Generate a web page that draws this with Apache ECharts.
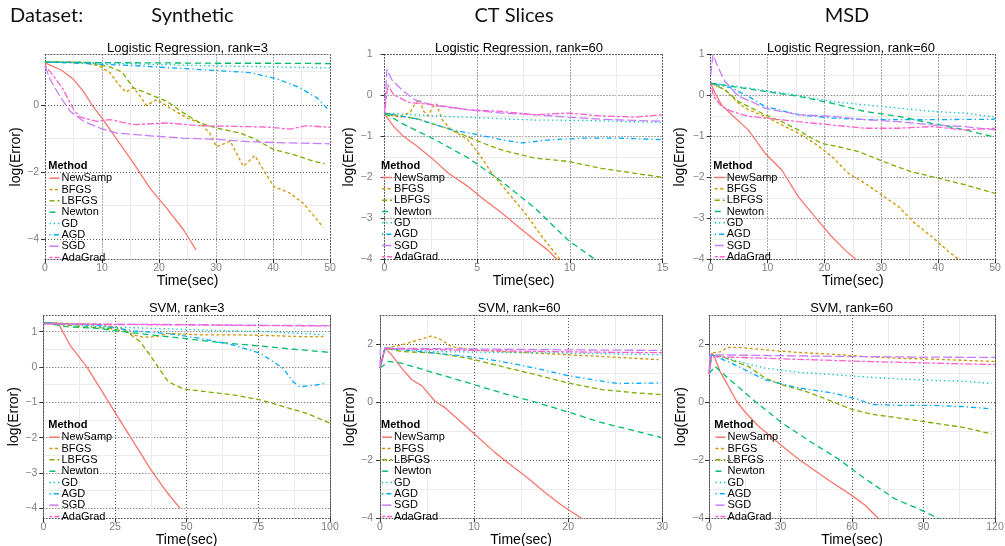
<!DOCTYPE html>
<html>
<head>
<meta charset="utf-8">
<script src="https://cdn.jsdelivr.net/npm/echarts@6/dist/echarts.min.js"></script>
<style>html,body{margin:0;padding:0;background:#fff}#c{width:1005px;height:546px}</style>
</head>
<body>
<div id="c"></div>
<script>
// ---------- data: [time(sec), log(Error)] ----------
const methods = ['NewSamp','BFGS','LBFGS','Newton','GD','AGD','SGD','AdaGrad'];

// Synthetic, Logistic Regression rank=3
const lr3_NewSamp = [[0,1.25],[2.9,1.03],[5,0.76],[6.7,0.41],[8.2,0.01],[10.2,-0.44],[12.6,-1.03],[15.5,-1.73],[18.4,-2.48],[21.3,-3.07],[24.3,-3.72],[26.5,-4.32]];
const lr3_BFGS = [[0,1.28],[6.7,1.27],[9.6,1.15],[11.4,0.96],[12.9,0.61],[14.2,0.38],[15.5,0.51],[16.7,0.26],[17.8,-0.02],[19.6,0.16],[21.9,-0.09],[24.9,-0.39],[27.2,-0.54],[28.9,-0.84],[30.1,-1.25],[32.5,-1.08],[34.8,-1.83],[36.8,-1.51],[40.1,-2.43],[43,-2.63],[45.3,-2.93],[48.8,-3.64]];
const lr3_LBFGS = [[0,1.28],[8,1.25],[11.4,1.13],[13.5,0.98],[15.5,0.51],[18.4,0.31],[21.3,0.11],[24.3,-0.24],[27.2,-0.54],[30.1,-0.69],[34.2,-0.84],[36.5,-0.99],[40.1,-1.33],[43.6,-1.48],[47.1,-1.68],[49.1,-1.75]];
const lr3_Newton = [[0,1.28],[10,1.26],[20,1.25],[30,1.24],[40,1.24],[50,1.23]];
const lr3_GD = [[0,1.28],[10,1.25],[20,1.2],[30,1.16],[40,1.13],[50,1.1]];
const lr3_AGD = [[0,1.28],[15.5,1.17],[27.2,1.05],[36,0.96],[40.6,0.78],[44.7,0.51],[47.7,0.21],[49.7,-0.14]];
const lr3_SGD = [[0,1.15],[0.9,0.76],[2.6,0.26],[4.4,-0.19],[6.7,-0.48],[9.6,-0.69],[12.6,-0.84],[18.4,-0.92],[24.3,-0.99],[30.1,-1.03],[36,-1.1],[41.8,-1.13],[50,-1.16]];
const lr3_AdaGrad = [[0,1.18],[1.5,0.86],[3.2,0.46],[5,-0.14],[6.1,-0.36],[9.1,-0.49],[11.4,-0.44],[15.5,-0.59],[21.3,-0.54],[27.2,-0.62],[33,-0.64],[38.9,-0.66],[43,-0.72],[45.9,-0.62],[50,-0.67]];

// CT Slices, Logistic Regression rank=60
const lrct_NewSamp = [[0,-0.45],[0.5,-0.76],[1.0,-0.99],[1.8,-1.25],[2.55,-1.53],[3.45,-1.9],[4.5,-2.22],[5.4,-2.55],[6.3,-2.86],[7.2,-3.2],[8.1,-3.53],[8.8,-3.77],[9.3,-4.0],[9.5,-4.1]];
const lrct_BFGS = [[0,-0.45],[0.9,-0.53],[1.4,-0.4],[1.65,-0.2],[1.9,-0.1],[2.1,-0.38],[2.35,-0.5],[2.6,-0.28],[2.8,-0.2],[3.1,-0.58],[3.6,-0.84],[4.5,-1.08],[5.07,-1.41],[5.8,-1.9],[6.7,-2.39],[7.6,-2.88],[8.5,-3.45],[9.47,-4.0],[9.6,-4.1]];
const lrct_LBFGS = [[0,-0.43],[1.83,-0.58],[3.63,-0.84],[5.07,-1.12],[6.3,-1.33],[8.1,-1.53],[9.9,-1.61],[11.7,-1.78],[13.5,-1.9],[15,-2.0]];
const lrct_Newton = [[0,-0.43],[0.93,-0.68],[2.73,-1.08],[4.53,-1.53],[6.32,-2.1],[8.12,-2.75],[9.9,-3.53],[11.35,-4.0],[11.5,-4.1]];
const lrct_GD = [[0,-0.43],[2.73,-0.5],[5.4,-0.55],[8.1,-0.6],[10.8,-0.61],[15,-0.66]];
const lrct_AGD = [[0,-0.43],[1.83,-0.58],[3.63,-0.84],[5.07,-0.96],[6.3,-1.08],[7.4,-1.16],[9.0,-1.08],[10.8,-1.04],[12.6,-1.04],[15,-1.08]];
const lrct_SGD = [[0,-0.43],[0.13,0.64],[0.4,0.38],[0.93,0.14],[1.65,-0.11],[2.73,-0.25],[4.53,-0.35],[6.32,-0.43],[8.12,-0.47],[9.9,-0.53],[11.7,-0.58],[13.5,-0.61],[15,-0.63]];
const lrct_AdaGrad = [[0,-0.43],[0.18,0.26],[0.48,0.02],[1.3,-0.17],[2.73,-0.23],[4.53,-0.35],[6.32,-0.39],[8.1,-0.47],[9.9,-0.43],[11.7,-0.5],[13.5,-0.53],[15,-0.47]];

// MSD, Logistic Regression rank=60
const lrmsd_NewSamp = [[0,0.3],[0.76,0.06],[1.9,-0.23],[3.7,-0.47],[6.6,-0.84],[9.55,-1.41],[12.5,-1.82],[15.4,-2.47],[18.3,-2.96],[21.3,-3.45],[23.6,-3.77],[25.5,-4.0],[26,-4.1]];
const lrmsd_BFGS = [[0,0.3],[2.5,0.14],[4.9,-0.19],[6.6,-0.35],[9.55,-0.51],[12.5,-0.72],[15.4,-0.92],[18.3,-1.17],[21.3,-1.49],[24.2,-1.9],[27.1,-2.14],[30.1,-2.43],[33,-2.71],[35.9,-3.12],[38.9,-3.45],[41.8,-3.81],[43.6,-4.0],[44,-4.05]];
const lrmsd_LBFGS = [[0,0.3],[2.5,0.14],[4.9,-0.15],[7.2,-0.31],[9.55,-0.47],[12.5,-0.64],[15.4,-0.84],[17.2,-1.0],[19.5,-1.17],[22.4,-1.25],[26,-1.37],[28.9,-1.53],[31.8,-1.69],[35.3,-1.86],[40,-2.02],[44.7,-2.18],[50,-2.39]];
const lrmsd_Newton = [[0,0.3],[3.7,0.22],[9.55,0.1],[15.4,-0.02],[21.3,-0.19],[27.1,-0.39],[33,-0.51],[38.9,-0.68],[44.7,-0.84],[50,-1.02]];
const lrmsd_GD = [[0,0.3],[3.7,0.24],[9.55,0.12],[15.4,0.0],[21.3,-0.15],[27.1,-0.23],[33,-0.31],[38.9,-0.39],[44.7,-0.43],[50,-0.53]];
const lrmsd_AGD = [[0,0.3],[3.7,0.18],[6.6,-0.02],[9.55,-0.27],[15.4,-0.47],[21.3,-0.55],[27.1,-0.59],[33,-0.59],[38.9,-0.59],[50,-0.58]];
const lrmsd_SGD = [[0,0.5],[0.4,1.0],[1.35,0.67],[2.5,0.34],[4.9,-0.02],[7.2,-0.15],[9.55,-0.31],[15.4,-0.47],[21.3,-0.51],[27.1,-0.59],[33,-0.64],[38.9,-0.72],[44.7,-0.76],[50,-0.84]];
const lrmsd_AdaGrad = [[0,0.3],[0.5,-0.02],[1.9,-0.27],[3.7,-0.39],[6.6,-0.51],[9.55,-0.55],[15.4,-0.64],[21.3,-0.72],[24.2,-0.76],[27.1,-0.8],[33,-0.8],[38.9,-0.76],[44.7,-0.84],[50,-0.8]];

// Synthetic, SVM rank=3
const svm3_NewSamp = [[0,1.25],[5.2,1.24],[9.3,0.62],[15.1,0.01],[19.8,-0.6],[25.6,-1.36],[31.4,-2.11],[37.2,-2.87],[43,-3.53],[47.7,-4.0]];
const svm3_BFGS = [[0,1.25],[19.8,1.21],[26.7,1.11],[31.4,0.91],[34.9,0.84],[39.5,0.86],[43,0.95],[54.7,0.91],[66.3,0.91],[77.9,0.89],[89.5,0.86],[97.7,0.86]];
const svm3_LBFGS = [[0,1.25],[14,1.14],[23.3,1.09],[29.1,1.0],[33.7,0.72],[37.2,0.34],[40.7,-0.08],[43.6,-0.42],[48.8,-0.62],[54.7,-0.68],[66.3,-0.79],[75.6,-0.93],[83.7,-1.12],[91.9,-1.31],[100,-1.59]];
const svm3_Newton = [[0,1.25],[8.1,1.14],[19.8,1.09],[25.6,1.02],[37.2,0.91],[48.8,0.81],[60.5,0.7],[72.1,0.62],[83.7,0.53],[100,0.41]];
const svm3_GD = [[0,1.25],[19.8,1.14],[31.4,1.11],[43,1.08],[54.7,1.05],[66.3,1.02],[77.9,1.0],[89.5,0.95],[97.7,0.91]];
const svm3_AGD = [[0,1.25],[19.8,1.17],[31.4,1.02],[43,0.95],[54.7,0.81],[66.3,0.62],[75.6,0.39],[83.7,-0.04],[87.2,-0.42],[89.5,-0.56],[95.3,-0.51],[98.3,-0.46]];
const svm3_SGD = [[0,1.22],[25,1.21],[50,1.2],[75,1.18],[100,1.17]];
const svm3_AdaGrad = [[0,1.22],[25,1.2],[50,1.19],[75,1.17],[100,1.16]];

// CT Slices, SVM rank=60
const svmct_NewSamp = [[0,1.17],[0.53,1.86],[1.24,1.63],[2.3,1.17],[3.37,0.77],[4.43,0.57],[5.85,0.03],[6.9,-0.19],[8.7,-0.71],[10.45,-1.22],[12.2,-1.73],[14,-2.19],[15.8,-2.64],[17.5,-3.1],[19.3,-3.55],[21.4,-4.0],[21.6,-4.05]];
const svmct_BFGS = [[0,1.17],[0.53,1.86],[2.3,1.97],[4.07,2.14],[5.5,2.28],[6.55,2.14],[7.6,1.91],[9.4,1.82],[12.9,1.74],[16.5,1.69],[20,1.63],[23.6,1.57],[27.1,1.51],[29.6,1.46]];
const svmct_LBFGS = [[0,1.17],[0.53,1.86],[2.3,1.74],[5.85,1.69],[9.4,1.51],[12.9,1.23],[16.5,0.95],[20,0.66],[23.6,0.43],[27.1,0.32],[29.9,0.26]];
const svmct_Newton = [[0,1.17],[0.89,1.4],[2.3,1.34],[5.85,1.0],[9.4,0.66],[12.9,0.32],[16.5,0.0],[20,-0.34],[23.6,-0.71],[27.1,-0.99],[29.9,-1.22]];
const svmct_GD = [[0,1.17],[0.53,1.86],[5.85,1.74],[12.9,1.71],[20,1.69],[29.9,1.63]];
const svmct_AGD = [[0,1.17],[0.53,1.86],[5.85,1.69],[9.4,1.57],[12.9,1.4],[16.5,1.17],[20,0.91],[23.6,0.72],[25.3,0.64],[29.9,0.66]];
const svmct_SGD = [[0,1.17],[0.05,1.86],[10,1.83],[20,1.8],[30,1.78]];
const svmct_AdaGrad = [[0,1.17],[0.53,1.84],[10,1.78],[20,1.73],[30,1.7]];

// MSD, SVM rank=60
const svmmsd_NewSamp = [[0,0.98],[1.1,1.69],[2.5,1.51],[4.6,1.06],[8.1,0.55],[11.6,0.03],[15.1,-0.34],[20.7,-0.82],[30.5,-1.5],[37.5,-1.96],[44.5,-2.36],[51.5,-2.76],[59.9,-3.21],[65.5,-3.55],[71,-4.0],[72,-4.1]];
const svmmsd_BFGS = [[0,0.98],[1.1,1.69],[5.3,1.74],[7.4,1.88],[12.3,1.89],[23.5,1.8],[37.5,1.71],[51.5,1.65],[65.5,1.57],[79.4,1.51],[93.4,1.48],[120,1.4]];
const svmmsd_LBFGS = [[0,0.98],[1.1,1.63],[5.3,1.57],[16.5,1.23],[23.5,0.83],[30.5,0.6],[40.3,0.38],[51.5,0.03],[59.9,-0.25],[68.3,-0.42],[79.4,-0.54],[93.4,-0.71],[107.4,-0.88],[118.6,-1.1]];
const svmmsd_Newton = [[0,0.98],[2.5,1.23],[9.5,0.72],[19.3,0.03],[30.5,-0.71],[43.1,-1.39],[54.3,-1.96],[65.5,-2.64],[78,-3.33],[87.8,-3.67],[96.2,-4.0],[97,-4.05]];
const svmmsd_GD = [[0,0.98],[1.1,1.63],[9.5,1.46],[23.5,1.17],[37.5,1.03],[51.5,0.95],[65.5,0.87],[79.4,0.8],[93.4,0.75],[107.4,0.72],[118.6,0.64]];
const svmmsd_AGD = [[0,0.98],[1.1,1.63],[9.5,1.34],[23.5,0.77],[37.5,0.49],[51.5,0.32],[62.7,0.09],[68.3,-0.08],[79.4,-0.11],[93.4,-0.11],[107.4,-0.16],[118.6,-0.23]];
const svmmsd_SGD = [[0,0.98],[0.4,1.63],[30,1.6],[60,1.57],[90,1.55],[120,1.54]];
const svmmsd_AdaGrad = [[0,0.98],[1.1,1.57],[23.5,1.51],[65.5,1.4],[120,1.29]];

// ---------- tick values ----------
const ticksX50 = [0,10,20,30,40,50], minorX50 = [5,15,25,35,45];
const ticksX15 = [0,5,10,15], minorX15 = [2.5,7.5,12.5];
const ticksX100 = [0,25,50,75,100], minorX100 = [12.5,37.5,62.5,87.5];
const ticksX30 = [0,10,20,30], minorX30 = [5,15,25];
const ticksX120 = [0,30,60,90,120], minorX120 = [15,45,75,105];
const ticksYeven = [-4,-2,0], minorYodd = [-3,-1,1];
const ticksYint = [-4,-3,-2,-1,0,1], minorYhalf = [-3.5,-2.5,-1.5,-0.5,0.5];
const ticksYsvm = [-4,-2,0,2], minorYsvm = [-3,-1,1,3];

const headers = ['Dataset:','Synthetic','CT Slices','MSD'];
const panelTitles = ['Logistic Regression, rank=3','Logistic Regression, rank=60','Logistic Regression, rank=60','SVM, rank=3','SVM, rank=60','SVM, rank=60'];

// ---------- styles ----------
const colors = {NewSamp:'#F8766D',BFGS:'#CD9600',LBFGS:'#7CAE00',Newton:'#00BE67',GD:'#00BFC4',AGD:'#00A9FF',SGD:'#C77CFF',AdaGrad:'#FF61CC'};
const dashes = {NewSamp:'solid',BFGS:[3,2.5],LBFGS:[5,3],Newton:[6,4],GD:[1.3,3],AGD:[1.3,3,5,3],SGD:[9,3],AdaGrad:[3,2,7,2]};

const panels = [
  {data:[lr3_NewSamp,lr3_BFGS,lr3_LBFGS,lr3_Newton,lr3_GD,lr3_AGD,lr3_SGD,lr3_AdaGrad],
   grid:{left:45,top:54.5,width:285,height:204.8}, x:[0,50], xt:ticksX50, xm:minorX50, y:[-4.6,1.5], yt:ticksYeven, ym:minorYodd,
   tx:187.5, ty:40, yGap:21, yMargin:6, xGap:12, lgLeft:48.7, lgTop:172.7, mLeft:48.3, mTop:160},
  {data:[lrct_NewSamp,lrct_BFGS,lrct_LBFGS,lrct_Newton,lrct_GD,lrct_AGD,lrct_SGD,lrct_AdaGrad],
   grid:{left:384.5,top:54.5,width:278,height:204.8}, x:[0,15], xt:ticksX15, xm:minorX15, y:[-4,1], yt:ticksYint, ym:minorYhalf,
   tx:519, ty:40, yGap:27.5, yMargin:12, xGap:12, lgLeft:381.3, lgTop:172, mLeft:381, mTop:160},
  {data:[lrmsd_NewSamp,lrmsd_BFGS,lrmsd_LBFGS,lrmsd_Newton,lrmsd_GD,lrmsd_AGD,lrmsd_SGD,lrmsd_AdaGrad],
   grid:{left:710.7,top:54.5,width:284.3,height:204.8}, x:[0,50], xt:ticksX50, xm:minorX50, y:[-4,1], yt:ticksYint, ym:minorYhalf,
   tx:851, ty:40, yGap:23.7, yMargin:6, xGap:12, lgLeft:714, lgTop:172, mLeft:713.3, mTop:160},
  {data:[svm3_NewSamp,svm3_BFGS,svm3_LBFGS,svm3_Newton,svm3_GD,svm3_AGD,svm3_SGD,svm3_AdaGrad],
   grid:{left:43.3,top:315,width:286.7,height:203.3}, x:[0,100], xt:ticksX100, xm:minorX100, y:[-4.28,1.47], yt:ticksYint, ym:minorYhalf,
   tx:186.7, ty:300, yGap:19.3, yMargin:6, xGap:11.5, lgLeft:48.7, lgTop:431.7, mLeft:48.3, mTop:419},
  {data:[svmct_NewSamp,svmct_BFGS,svmct_LBFGS,svmct_Newton,svmct_GD,svmct_AGD,svmct_SGD,svmct_AdaGrad],
   grid:{left:380,top:315,width:282.3,height:203.3}, x:[0,30], xt:ticksX30, xm:minorX30, y:[-4,3], yt:ticksYsvm, ym:minorYsvm,
   tx:519, ty:300, yGap:23, yMargin:7, xGap:11.5, lgLeft:381.3, lgTop:431.7, mLeft:381, mTop:419},
  {data:[svmmsd_NewSamp,svmmsd_BFGS,svmmsd_LBFGS,svmmsd_Newton,svmmsd_GD,svmmsd_AGD,svmmsd_SGD,svmmsd_AdaGrad],
   grid:{left:709,top:315,width:286,height:203.3}, x:[0,120], xt:ticksX120, xm:minorX120, y:[-4,3], yt:ticksYsvm, ym:minorYsvm,
   tx:851.5, ty:300, yGap:20, yMargin:5, xGap:11.5, lgLeft:714.7, lgTop:431.7, mLeft:714.3, mTop:419}
];

const FONT = 'Liberation Sans';
const minus = v => String(v).replace('-', '\u2212');
const borderStyle = {color:'#555', width:1, type:[1,2]};
const majorGrid = {color:'#555', width:1, type:[1,2]};
const minorGrid = {color:'#ebebeb', width:1, type:'solid'};

const grids = [], xAxes = [], yAxes = [], series = [], legends = [];
const titles = [
  {text:headers[0], left:10, top:4, padding:0, textStyle:{fontFamily:'Lato', fontSize:20, fontWeight:'normal', color:'#111', lineHeight:24}},
  {text:headers[1], left:192.5, textAlign:'center', top:4, padding:0, textStyle:{fontFamily:'Lato', fontSize:20, fontWeight:'normal', color:'#111', lineHeight:24}},
  {text:headers[2], left:514, textAlign:'center', top:4, padding:0, textStyle:{fontFamily:'Lato', fontSize:20, fontWeight:'normal', color:'#111', lineHeight:24}},
  {text:headers[3], left:847, textAlign:'center', top:4, padding:0, textStyle:{fontFamily:'Lato', fontSize:20, fontWeight:'normal', color:'#111', lineHeight:24}}
];

panels.forEach((p, i) => {
  grids.push(Object.assign({outerBoundsMode:'none', containLabel:false, show:false}, p.grid));
  // minor axes (top / right) first -> drawn underneath
  xAxes.push({type:'value', gridIndex:i, position:'top', min:p.x[0], max:p.x[1],
    axisLine:{show:true, onZero:false, lineStyle:borderStyle}, axisTick:{show:false, customValues:p.xm},
    axisLabel:{show:false}, splitLine:{show:true, lineStyle:minorGrid}});
  xAxes.push({type:'value', gridIndex:i, position:'bottom', min:p.x[0], max:p.x[1],
    name:'Time(sec)', nameLocation:'middle', nameGap:p.xGap,
    nameTextStyle:{fontFamily:FONT, fontSize:14, color:'#000'},
    axisLine:{show:true, onZero:false, lineStyle:borderStyle},
    axisTick:{show:true, length:4, customValues:p.xt, lineStyle:{color:'#333', width:1}},
    axisLabel:{customValues:p.xt, margin:3, color:'#7f7f7f', fontSize:10.5, fontFamily:FONT, formatter:minus, showMinLabel:true, showMaxLabel:true},
    splitLine:{show:true, lineStyle:majorGrid}});
  yAxes.push({type:'value', gridIndex:i, position:'right', min:p.y[0], max:p.y[1],
    axisLine:{show:true, onZero:false, lineStyle:borderStyle}, axisTick:{show:false, customValues:p.ym},
    axisLabel:{show:false}, splitLine:{show:true, lineStyle:minorGrid}});
  yAxes.push({type:'value', gridIndex:i, position:'left', min:p.y[0], max:p.y[1],
    name:'log(Error)', nameLocation:'middle', nameGap:p.yGap,
    nameTextStyle:{fontFamily:FONT, fontSize:14, color:'#000'},
    axisLine:{show:true, onZero:false, lineStyle:borderStyle},
    axisTick:{show:true, length:4, customValues:p.yt, lineStyle:{color:'#333', width:1}},
    axisLabel:{customValues:p.yt, margin:p.yMargin, color:'#7f7f7f', fontSize:10.5, fontFamily:FONT, formatter:minus, showMinLabel:true, showMaxLabel:true},
    splitLine:{show:true, lineStyle:majorGrid}});
  methods.forEach((m, k) => {
    series.push({type:'line', name:m, xAxisIndex:2*i+1, yAxisIndex:2*i+1, data:p.data[k],
      symbol:'none', showSymbol:false, smooth:false, clip:true, animation:false, silent:true,
      color:colors[m], lineStyle:{color:colors[m], width:1.3, type:dashes[m]}});
  });
  titles.push({text:panelTitles[i], left:p.tx, textAlign:'center', top:p.ty, padding:0,
    textStyle:{fontFamily:FONT, fontSize:13, fontWeight:'normal', color:'#000', lineHeight:16}});
  titles.push({text:'Method', left:p.mLeft, top:p.mTop, padding:0,
    textStyle:{fontFamily:FONT, fontSize:11, fontWeight:'bold', color:'#000', lineHeight:12}});
  legends.push({data:methods, orient:'vertical', left:p.lgLeft, top:p.lgTop, padding:0,
    itemWidth:10, itemHeight:10, itemGap:0.33, selectedMode:false,
    itemStyle:{opacity:0, borderWidth:0}, lineStyle:{width:1.5},
    textStyle:{fontFamily:FONT, fontSize:11, color:'#000', lineHeight:10, padding:[0,0,0,-3]}});
});

const chart = echarts.init(document.getElementById('c'), null, {renderer:'canvas'});
chart.setOption({
  backgroundColor:'#fff', animation:false,
  textStyle:{fontFamily:FONT},
  title:titles, grid:grids, xAxis:xAxes, yAxis:yAxes, legend:legends, series:series
});
</script>
</body>
</html>
